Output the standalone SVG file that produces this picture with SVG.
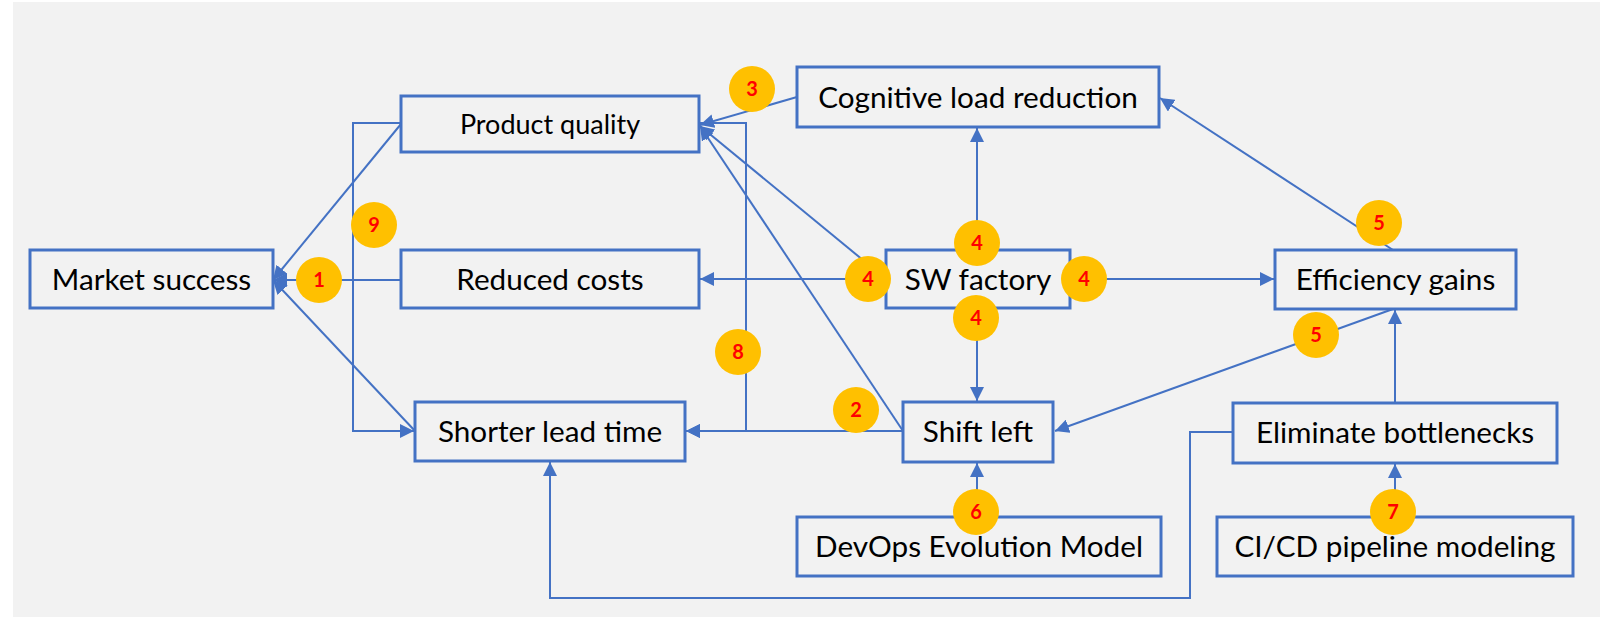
<svg xmlns="http://www.w3.org/2000/svg" width="1600" height="617" viewBox="0 0 1600 617">
<style>
.box{fill:#F2F2F2;stroke:#4472C4;stroke-width:3}
.lbl{font-family:Lato,"Open Sans",sans-serif;font-size:29.7px;fill:#000;text-anchor:middle}
.con{fill:none;stroke:#4472C4;stroke-width:2}
.bdg{fill:#FFC000}
.num{font-family:Lato,"Liberation Sans",sans-serif;font-weight:bold;font-size:20px;fill:#FF0000;text-anchor:middle}
</style>
<defs>
<marker id="arr" viewBox="0 0 10 10" refX="10" refY="5" markerWidth="14" markerHeight="14" markerUnits="userSpaceOnUse" orient="auto">
<path d="M0,0 L10,5 L0,10 z" fill="#4472C4"/>
</marker>
</defs>
<rect x="0" y="0" width="1600" height="617" fill="#FFFFFF"/>
<rect x="13" y="2" width="1587" height="615" fill="#F2F2F2"/>
<g id="connectors">
<line class="con" x1="401" y1="124" x2="273" y2="280" marker-end="url(#arr)"/>
<line class="con" x1="401" y1="280" x2="273" y2="280" marker-end="url(#arr)"/>
<line class="con" x1="415" y1="431" x2="273" y2="280" marker-end="url(#arr)"/>
<line class="con" x1="797" y1="97" x2="700" y2="125" marker-end="url(#arr)"/>
<line class="con" x1="886" y1="279" x2="700" y2="126" marker-end="url(#arr)"/>
<line class="con" x1="903" y1="431" x2="700" y2="126" marker-end="url(#arr)"/>
<polyline class="con" points="699,123 746,123 746,431 686,431" marker-end="url(#arr)"/>
<polyline class="con" points="401,123 353,123 353,431 414,431" marker-end="url(#arr)"/>
<line class="con" x1="903" y1="431" x2="686" y2="431" marker-end="url(#arr)"/>
<line class="con" x1="886" y1="279" x2="700" y2="279" marker-end="url(#arr)"/>
<line class="con" x1="977" y1="250" x2="977" y2="128" marker-end="url(#arr)"/>
<line class="con" x1="1070" y1="279" x2="1274" y2="279" marker-end="url(#arr)"/>
<line class="con" x1="977" y1="308" x2="977" y2="401" marker-end="url(#arr)"/>
<line class="con" x1="1393" y1="250" x2="1160" y2="98" marker-end="url(#arr)"/>
<line class="con" x1="1393" y1="309" x2="1055" y2="431" marker-end="url(#arr)"/>
<line class="con" x1="1395" y1="403" x2="1395" y2="310" marker-end="url(#arr)"/>
<polyline class="con" points="1233,432 1190,432 1190,598 550,598 550,462" marker-end="url(#arr)"/>
<line class="con" x1="977" y1="517" x2="977" y2="463" marker-end="url(#arr)"/>
<line class="con" x1="1395" y1="517" x2="1395" y2="464" marker-end="url(#arr)"/>
</g>
<g id="market-success"><rect class="box" x="30" y="250" width="243" height="58"/><text class="lbl" x="151.5" y="290">Market success</text></g>
<g id="product-quality"><rect class="box" x="401" y="96" width="298" height="56"/><text class="lbl" x="550" y="134" style="font-size:27px">Product quality</text></g>
<g id="reduced-costs"><rect class="box" x="401" y="250" width="298" height="58"/><text class="lbl" x="550" y="290">Reduced costs</text></g>
<g id="cognitive-load"><rect class="box" x="797" y="67" width="362" height="60"/><text class="lbl" x="978" y="108">Cognitive load reduction</text></g>
<g id="sw-factory"><rect class="box" x="886" y="250" width="184" height="58"/><text class="lbl" x="978" y="290">SW factory</text></g>
<g id="efficiency-gains"><rect class="box" x="1275" y="250" width="241" height="59"/><text class="lbl" x="1395.5" y="290">Efficiency gains</text></g>
<g id="shorter-lead-time"><rect class="box" x="415" y="402" width="270" height="59"/><text class="lbl" x="550" y="442">Shorter lead time</text></g>
<g id="shift-left"><rect class="box" x="903" y="402" width="150" height="60"/><text class="lbl" x="978" y="442">Shift left</text></g>
<g id="eliminate-bottlenecks"><rect class="box" x="1233" y="403" width="324" height="60"/><text class="lbl" x="1395" y="443">Eliminate bottlenecks</text></g>
<g id="devops-model"><rect class="box" x="797" y="517" width="364" height="59"/><text class="lbl" x="979" y="557">DevOps Evolution Model</text></g>
<g id="cicd-modeling"><rect class="box" x="1217" y="517" width="356" height="59"/><text class="lbl" x="1395" y="557">CI/CD pipeline modeling</text></g>
<g id="badges">
<circle class="bdg" cx="319" cy="280" r="23"/><text class="num" x="319" y="287">1</text>
<circle class="bdg" cx="374" cy="225" r="23"/><text class="num" x="374" y="232">9</text>
<circle class="bdg" cx="752" cy="89" r="23"/><text class="num" x="752" y="96">3</text>
<circle class="bdg" cx="977" cy="243" r="23"/><text class="num" x="977" y="250">4</text>
<circle class="bdg" cx="868" cy="279" r="23"/><text class="num" x="868" y="286">4</text>
<circle class="bdg" cx="1084" cy="279" r="23"/><text class="num" x="1084" y="286">4</text>
<circle class="bdg" cx="976" cy="318" r="23"/><text class="num" x="976" y="325">4</text>
<circle class="bdg" cx="1379" cy="223" r="23"/><text class="num" x="1379" y="230">5</text>
<circle class="bdg" cx="1316" cy="335" r="23"/><text class="num" x="1316" y="342">5</text>
<circle class="bdg" cx="856" cy="410" r="23"/><text class="num" x="856" y="417">2</text>
<circle class="bdg" cx="976" cy="512" r="23"/><text class="num" x="976" y="519">6</text>
<circle class="bdg" cx="1393" cy="512" r="23"/><text class="num" x="1393" y="519">7</text>
<circle class="bdg" cx="738" cy="352" r="23"/><text class="num" x="738" y="359">8</text>
</g>
</svg>
